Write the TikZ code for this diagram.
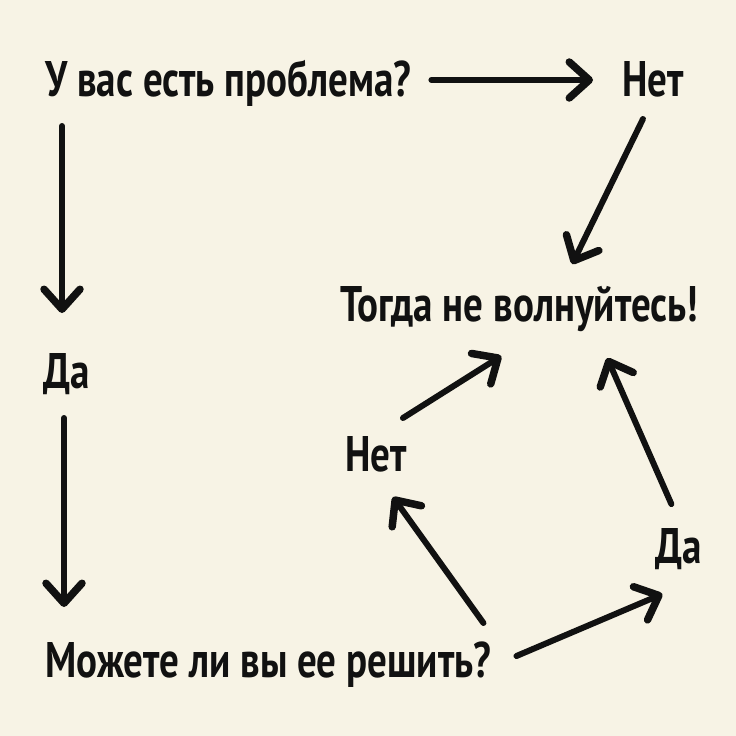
\documentclass[tikz,border=0pt]{standalone}
\usepackage{fontspec}
\setmainfont{PT Sans}[BoldFont={PT Sans Bold}]
\newfontfamily\handfont{PT Sans Bold}[FakeStretch=0.78]
\usetikzlibrary{arrows.meta}
\definecolor{paper}{RGB}{247,243,229}
\definecolor{ink}{RGB}{17,17,17}
\tikzset{
	txt/.style={inner sep=0, anchor=base west, text=ink, font=\handfont\fontsize{50}{54}\selectfont},
	arr/.style={draw=ink, line width=6pt, line cap=round, -{Straight Barb[length=20pt, width=36pt, line width=7.5pt, line cap=round, line join=round]}}
}

\begin{document}
\begin{tikzpicture}[x=1pt, y=-1pt]
			%%%%% START %%%%%
			
			\fill[paper] (0, 0) rectangle (736, 736);
			
			\node[txt] (q1) at (45, 96) {У вас есть проблема?};
			\node[txt] (no1) at (622, 96) {Нет};
			\node[txt] (yes1) at (43, 388) {Да};
			\node[txt] (calm) at (340, 321) {Тогда не волнуйтесь!};
			\node[txt] (no2) at (345, 471) {Нет};
			\node[txt] (yes2) at (655, 563) {Да};
			\node[txt] (q2) at (45, 677) {Можете ли вы ее решить?};
			
			\draw[arr] ([xshift=20pt, yshift=16pt]q1.base east) -- ([xshift=-29pt, yshift=16pt]no1.base west);
			\draw[arr] ([xshift=-10pt, yshift=-23pt]no1.base) -- ([xshift=53pt, yshift=57pt]calm.base);
			
			\draw[arr] ([xshift=17pt, yshift=-30pt]q1.base west) -- ([xshift=19pt, yshift=75pt]yes1.base west);
			\draw[arr] ([xshift=21pt, yshift=-30pt]yes1.base west) -- ([xshift=19pt, yshift=70pt]q2.base west);
			
			\draw[arr] ([xshift=-8pt, yshift=54pt]q2.base east) -- ([xshift=17pt, yshift=-26pt]no2.base);
			\draw[arr] ([xshift=25pt, yshift=21pt]q2.base east) -- ([xshift=-16pt, yshift=-31pt]yes2.base);
			
			\draw[arr] ([xshift=-7pt, yshift=59pt]yes2.base) -- ([xshift=88pt, yshift=-37pt]calm.base);
			\draw[arr] ([xshift=27pt, yshift=53pt]no2.base) -- ([xshift=-18pt, yshift=-35pt]calm.base);
			
			%%%%% END %%%%%
\end{tikzpicture}
\end{document}
